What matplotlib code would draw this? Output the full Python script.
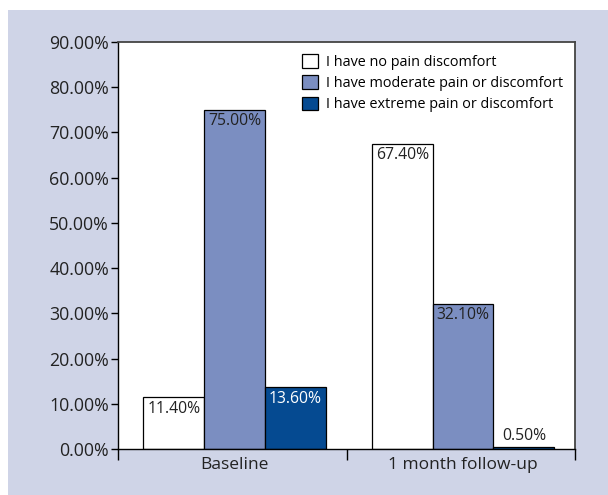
import numpy as np
import matplotlib.pyplot as plt
from matplotlib.patches import Rectangle
from matplotlib.ticker import FuncFormatter, FixedLocator

plt.rcParams['font.family'] = ['Open Sans', 'DejaVu Sans']

# Pain / discomfort responses at each time point (percent)
timepoints = ['Baseline', '1 month follow-up']
series_names = ['I have no pain discomfort',
                'I have moderate pain or discomfort',
                'I have extreme pain or discomfort']
no_pain = [11.40, 67.40]
moderate_pain = [75.00, 32.10]
extreme_pain = [13.60, 0.50]

colors = ['#ffffff', '#7b8ec1', '#054a91']
label_colors = ['#222222', '#222222', '#ffffff']

fig = plt.figure(figsize=(6.08, 4.95), dpi=100)
fig.patch.set_facecolor('white')
# lavender panel behind the axes
fig.patches.append(Rectangle((8 / 608, 0), 1, 1 - 10 / 495, transform=fig.transFigure,
                             facecolor='#cfd4e7', edgecolor='none', zorder=-5))

ax = fig.add_axes([118 / 608, 1 - 449 / 495, (575 - 118) / 608, (449 - 42) / 495])
ax.set_zorder(2)
ax.set_facecolor('white')

centers = np.arange(len(timepoints)) + 0.51
width = 0.266
all_series = [no_pain, moderate_pain, extreme_pain]

for i, (vals, name) in enumerate(zip(all_series, series_names)):
    xs = centers + (i - 1) * width
    ax.bar(xs, vals, width=width, color=colors[i], edgecolor='black', linewidth=0.9,
           label=name, zorder=2)
    for x, v in zip(xs, vals):
        txt = f'{v:.2f}%'
        if v < 2:
            ax.text(x, v + 0.5, txt, ha='center', va='bottom', fontsize=11.3,
                    color='#222222')
        else:
            ax.text(x, v - 0.7, txt, ha='center', va='top', fontsize=11.3,
                    color=label_colors[i])

ax.set_xlim(0, 2)
ax.set_ylim(0, 90)
ax.set_yticks(np.arange(0, 91, 10))
ax.yaxis.set_major_formatter(FuncFormatter(lambda v, p: f'{v:.2f}%'))
ax.tick_params(axis='y', labelsize=12.8, length=5, width=1, color='black',
               labelcolor='#222222', pad=1.5)

# category separators as ticks, labels at group centres
ax.xaxis.set_major_locator(FixedLocator([0, 1, 2]))
ax.set_xticklabels([])
ax.xaxis.set_minor_locator(FixedLocator(centers))
ax.set_xticklabels(timepoints, minor=True)
ax.tick_params(axis='x', which='major', length=8, width=1, color='black')
ax.tick_params(axis='x', which='minor', length=0, labelsize=12.5,
               labelcolor='#222222', pad=6)

for side in ['left', 'bottom']:
    ax.spines[side].set_color('black')
    ax.spines[side].set_linewidth(1.0)
for side in ['top', 'right']:
    ax.spines[side].set_color('#444444')
    ax.spines[side].set_linewidth(1.3)

leg = ax.legend(loc='upper right', bbox_to_anchor=(1.0, 1.0), frameon=False,
                fontsize=10.4, handlelength=1.05, handleheight=1.05,
                handletextpad=0.55, labelspacing=0.38, borderaxespad=0.45)

fig.savefig('out.png', dpi=100)
